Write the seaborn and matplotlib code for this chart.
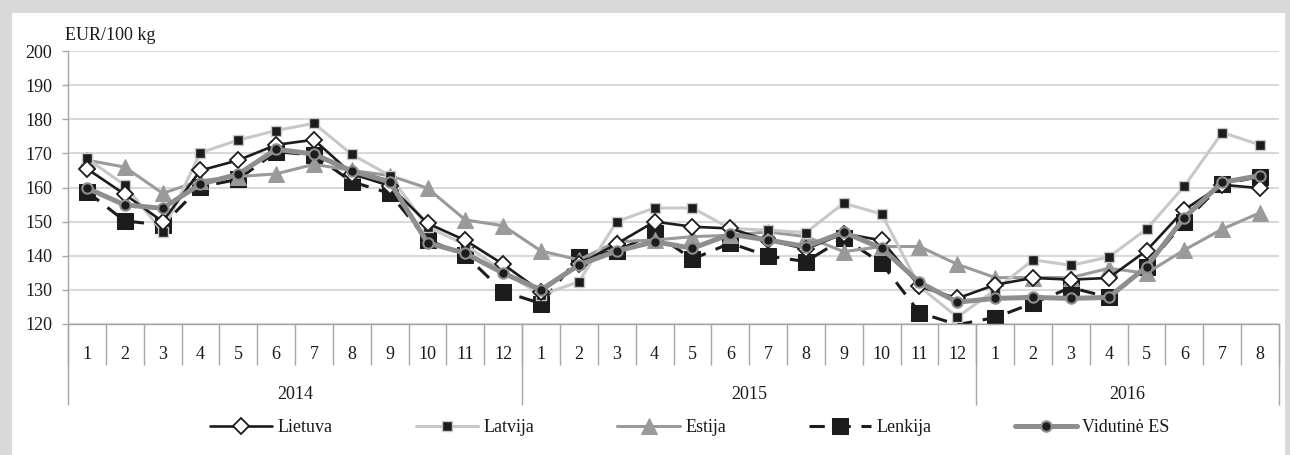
import numpy as np
import pandas as pd
import matplotlib
matplotlib.use("Agg")
import matplotlib.pyplot as plt
import seaborn as sns
from matplotlib.patches import Rectangle

# ---------------- data ----------------
years = ["2014", "2015", "2016"]
months_per_year = [12, 12, 8]
month_labels = ([str(m) for m in range(1, 13)] + [str(m) for m in range(1, 13)]
                + [str(m) for m in range(1, 9)])
y_unit = "EUR/100 kg"
y_ticks = [120, 130, 140, 150, 160, 170, 180, 190, 200]

lietuva = [165.5, 158, 150, 165, 168, 172.5, 174, 164, 160.5, 149.5, 144.5, 137.5,
           129.5, 137.5, 143.5, 150, 148.5, 148, 144.5, 142, 146.5, 144.5, 131, 127.5,
           131.5, 133.5, 133, 133.5, 141.5, 153.5, 160.8, 159.8]
latvija = [168.5, 160.7, 147, 170.2, 173.9, 176.7, 178.8, 169.7, 163.5, 148.5, 143.2, 135.5,
           128.5, 132.4, 150, 154, 154, 148, 147.5, 146.8, 155.4, 152.2, 131, 122,
           130, 138.8, 137.2, 139.6, 147.8, 160.4, 176.1, 172.5]
estija = [168, 166, 158.3, 162, 163.2, 164, 166.8, 165, 163.5, 159.8, 150.5, 148.8,
          141.4, 138.8, 144.1, 144.6, 145.6, 146, 147, 145.6, 141.2, 142.7, 142.7, 137.5,
          133.6, 133.6, 133.6, 136.3, 134.9, 141.7, 147.8, 152.6]
lenkija = [158.8, 150.2, 149, 160.2, 162.4, 170.5, 169.5, 161.7, 158.3, 144.6, 140.2, 129.5,
           126, 139.6, 141.4, 146.6, 139, 143.7, 139.9, 138.3, 145.1, 137.8, 123.3, 119.8,
           121.9, 126.1, 130.7, 127.8, 136.8, 150, 161, 163.2]
vidutine = [159.8, 154.9, 153.9, 161, 163.9, 171.2, 169.8, 164.8, 161.7, 143.8, 140.7, 134.9,
            130, 137.3, 141.4, 144.1, 142.2, 146.3, 144.6, 142.7, 146.9, 142.2, 132.2, 126.4,
            127.5, 127.8, 127.5, 127.8, 136.8, 151.2, 161.5, 163.5]

series_names = ["Lietuva", "Latvija", "Estija", "Lenkija", "Vidutinė ES"]
series_values = [lietuva, latvija, estija, lenkija, vidutine]

# ---------------- figure ----------------
sns.set_theme(style="white")
plt.rcParams['font.family'] = ['Liberation Serif', 'DejaVu Serif']
FS = 13

W, H = 1290, 455
fig = plt.figure(figsize=(W / 100, H / 100), dpi=100)
fig.patch.set_facecolor('#d9d9d9')
fig.patches.append(Rectangle((12 / W, 0), (1285 - 12) / W, (H - 13) / H,
                             transform=fig.transFigure, facecolor='white',
                             edgecolor='none', zorder=-5))

ax = fig.add_axes([68 / W, 1 - 324 / H, (1279 - 68) / W, (324 - 51) / H])
ax.set_facecolor('none')

x_pos = np.arange(len(month_labels))
df = pd.DataFrame({"x": x_pos})
for n, v in zip(series_names, series_values):
    df[n] = v

dark = '#1c1c1c'
styles = {
    "Lietuva": dict(color=dark, lw=1.9, marker='D', ms=8, markerfacecolor='white',
                    markeredgecolor=dark, markeredgewidth=1.3, zorder=4),
    "Latvija": dict(color='#c8c8c8', lw=2.2, marker='s', ms=6.5, markerfacecolor=dark,
                    markeredgecolor='#c8c8c8', markeredgewidth=1.0, zorder=3),
    "Estija": dict(color='#9a9a9a', lw=2.2, marker='^', ms=11, markerfacecolor='#9a9a9a',
                   markeredgecolor='#9a9a9a', zorder=2),
    "Lenkija": dict(color=dark, lw=2.2, linestyle=(0, (5, 3.5)), marker='s', ms=11,
                    markerfacecolor=dark, markeredgecolor=dark,
                    markevery=[i for i in range(len(lenkija)) if lenkija[i] >= 120],
                    zorder=1),
    "Vidutinė ES": dict(color='#8e8e8e', lw=3.6, marker='o', ms=7.5, markerfacecolor=dark,
                        markeredgecolor='#8e8e8e', markeredgewidth=1.5, zorder=5),
}

for n in series_names:
    sns.lineplot(data=df, x="x", y=n, ax=ax, label=n, errorbar=None, **styles[n])

handles, labels = ax.get_legend_handles_labels()
if ax.get_legend() is not None:
    ax.get_legend().remove()

# axes formatting
ax.set_xlim(-0.5, len(month_labels) - 0.5)
ax.set_ylim(120, 200)
ax.set_yticks(y_ticks)
ax.set_xlabel("")
ax.set_ylabel("")
ax.grid(axis='y', color='#d9d9d9', lw=1.5)
ax.grid(axis='x', visible=False)
ax.set_axisbelow(True)
for s in ['top', 'right']:
    ax.spines[s].set_visible(False)
for s in ['left', 'bottom']:
    ax.spines[s].set_color('#a6a6a6')
    ax.spines[s].set_linewidth(1.0)

ax.tick_params(axis='y', length=4.5, width=1, color='#a6a6a6', pad=7,
               labelsize=FS, labelcolor='#1a1a1a', left=True)
ax.set_xticks(x_pos, month_labels)
ax.tick_params(axis='x', which='major', length=0, pad=15.5, labelsize=FS, labelcolor='#1a1a1a')
ax.set_xticks(np.arange(-0.5, len(month_labels), 1.0), minor=True)
ax.tick_params(axis='x', which='minor', length=29.5, width=1, color='#a6a6a6', bottom=True)

# year level
bounds = np.concatenate([[0], np.cumsum(months_per_year)]) - 0.5
centers = (bounds[:-1] + bounds[1:]) / 2
sec = ax.secondary_xaxis('bottom')
sec.set_xticks(centers, years)
sec.set_xticks(bounds, minor=True)
sec.tick_params(axis='x', which='major', length=0, pad=44.5, labelsize=FS, labelcolor='#1a1a1a')
sec.tick_params(axis='x', which='minor', length=58.3, width=1, color='#a6a6a6')
sec.spines['bottom'].set_visible(False)

fig.text(65 / W, 1 - 35 / H, y_unit, ha='left', va='center', fontsize=FS, color='#1a1a1a')

fig.legend(handles, labels, loc='center', bbox_to_anchor=(690 / W, 1 - 428 / H),
           ncol=5, frameon=False, fontsize=FS, handlelength=3.45, handletextpad=0.3,
           columnspacing=4.6, labelcolor='#1a1a1a')

fig.savefig("out.png", dpi=100)
